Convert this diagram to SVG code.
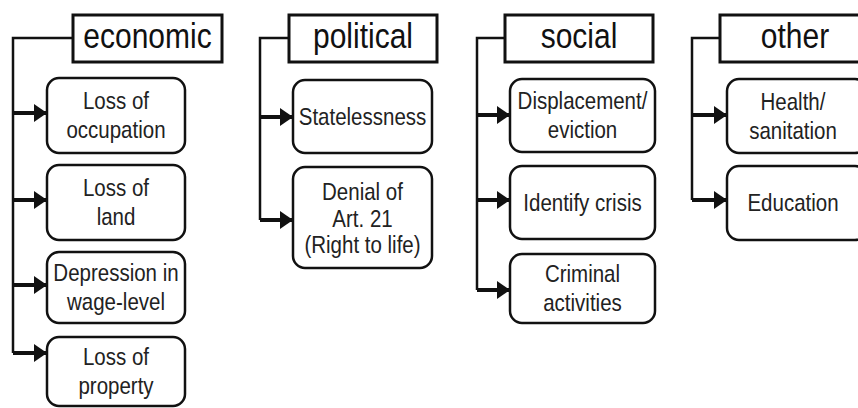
<svg xmlns="http://www.w3.org/2000/svg" width="858" height="408" viewBox="0 0 858 408">
<defs>
<style>
.hdr{fill:#fff;stroke:#111;stroke-width:3}
.box{fill:#fff;stroke:#111;stroke-width:2.5}
.ht{font-family:"Liberation Sans",Arial,sans-serif;font-size:30px;fill:#111;text-anchor:middle}
.bt{font-family:"Liberation Sans",Arial,sans-serif;font-size:20.5px;fill:#222;text-anchor:middle}
.trunk{fill:none;stroke:#111;stroke-width:2.5}
.arr{fill:none;stroke:#111;stroke-width:4;marker-end:url(#ah)}
</style>
<marker id="ah" markerUnits="userSpaceOnUse" markerWidth="14" markerHeight="18" refX="13" refY="9" orient="auto">
<path d="M0,0 L13,9 L0,18 Z" fill="#111"/>
</marker>
</defs>
<rect width="858" height="408" fill="#fff"/>
<g id="connectors">
<path class="trunk" d="M73,38 H13 V353"/>
<path class="arr" d="M13,113 H47"/>
<path class="arr" d="M13,200 H47"/>
<path class="arr" d="M13,285 H47"/>
<path class="arr" d="M13,353 H47"/>
<path class="trunk" d="M289,38 H260 V220"/>
<path class="arr" d="M260,117 H293"/>
<path class="arr" d="M260,220 H293"/>
<path class="trunk" d="M505,38 H477 V290"/>
<path class="arr" d="M477,115 H510"/>
<path class="arr" d="M477,200 H510"/>
<path class="arr" d="M477,290 H510"/>
<path class="trunk" d="M720,38 H692 V200"/>
<path class="arr" d="M692,115 H727"/>
<path class="arr" d="M692,200 H727"/>
</g>
<g id="economic">
<rect class="hdr" x="73" y="15" width="149" height="47"/>
<text class="ht" transform="translate(147.5,48) scale(1,1.15)">economic</text>
</g>
<g id="loss-occupation">
<rect class="box" x="47" y="78" width="138" height="75" rx="12"/>
<text class="bt" transform="translate(116,109) scale(1,1.18)">Loss of</text>
<text class="bt" transform="translate(116,138) scale(1,1.18)">occupation</text>
</g>
<g id="loss-land">
<rect class="box" x="47" y="165" width="138" height="75" rx="12"/>
<text class="bt" transform="translate(116,196) scale(1,1.18)">Loss of</text>
<text class="bt" transform="translate(116,225) scale(1,1.18)">land</text>
</g>
<g id="depression-wage">
<rect class="box" x="47" y="252" width="138" height="71" rx="12"/>
<text class="bt" transform="translate(116,281) scale(1,1.18)">Depression in</text>
<text class="bt" transform="translate(116,310) scale(1,1.18)">wage-level</text>
</g>
<g id="loss-property">
<rect class="box" x="47" y="337" width="138" height="69" rx="12"/>
<text class="bt" transform="translate(116,365) scale(1,1.18)">Loss of</text>
<text class="bt" transform="translate(116,394) scale(1,1.18)">property</text>
</g>
<g id="political">
<rect class="hdr" x="289" y="15" width="148" height="47"/>
<text class="ht" transform="translate(363,48) scale(1,1.15)">political</text>
</g>
<g id="statelessness">
<rect class="box" x="293" y="80" width="139" height="73" rx="12"/>
<text class="bt" transform="translate(362.5,125) scale(1,1.18)">Statelessness</text>
</g>
<g id="denial-art21">
<rect class="box" x="293" y="167" width="139" height="101" rx="12"/>
<text class="bt" transform="translate(362.5,200) scale(1,1.18)">Denial of</text>
<text class="bt" transform="translate(362.5,227) scale(1,1.18)">Art. 21</text>
<text class="bt" transform="translate(362.5,253) scale(1,1.18)">(Right to life)</text>
</g>
<g id="social">
<rect class="hdr" x="505" y="15" width="148" height="47"/>
<text class="ht" transform="translate(579,48) scale(1,1.15)">social</text>
</g>
<g id="displacement">
<rect class="box" x="510" y="79" width="145" height="73" rx="12"/>
<text class="bt" transform="translate(582.5,109) scale(1,1.18)">Displacement/</text>
<text class="bt" transform="translate(582.5,138) scale(1,1.18)">eviction</text>
</g>
<g id="identify-crisis">
<rect class="box" x="510" y="166" width="145" height="73" rx="12"/>
<text class="bt" transform="translate(582.5,211) scale(1,1.18)">Identify crisis</text>
</g>
<g id="criminal">
<rect class="box" x="510" y="254" width="145" height="69" rx="12"/>
<text class="bt" transform="translate(582.5,282) scale(1,1.18)">Criminal</text>
<text class="bt" transform="translate(582.5,311) scale(1,1.18)">activities</text>
</g>
<g id="other">
<rect class="hdr" x="720" y="15" width="140" height="47"/>
<text class="ht" transform="translate(795,48) scale(1,1.15)">other</text>
</g>
<g id="health">
<rect class="box" x="727" y="79" width="140" height="74" rx="12"/>
<text class="bt" transform="translate(793,110) scale(1,1.18)">Health/</text>
<text class="bt" transform="translate(793,139) scale(1,1.18)">sanitation</text>
</g>
<g id="education">
<rect class="box" x="727" y="166" width="140" height="74" rx="12"/>
<text class="bt" transform="translate(793,211) scale(1,1.18)">Education</text>
</g>
</svg>
